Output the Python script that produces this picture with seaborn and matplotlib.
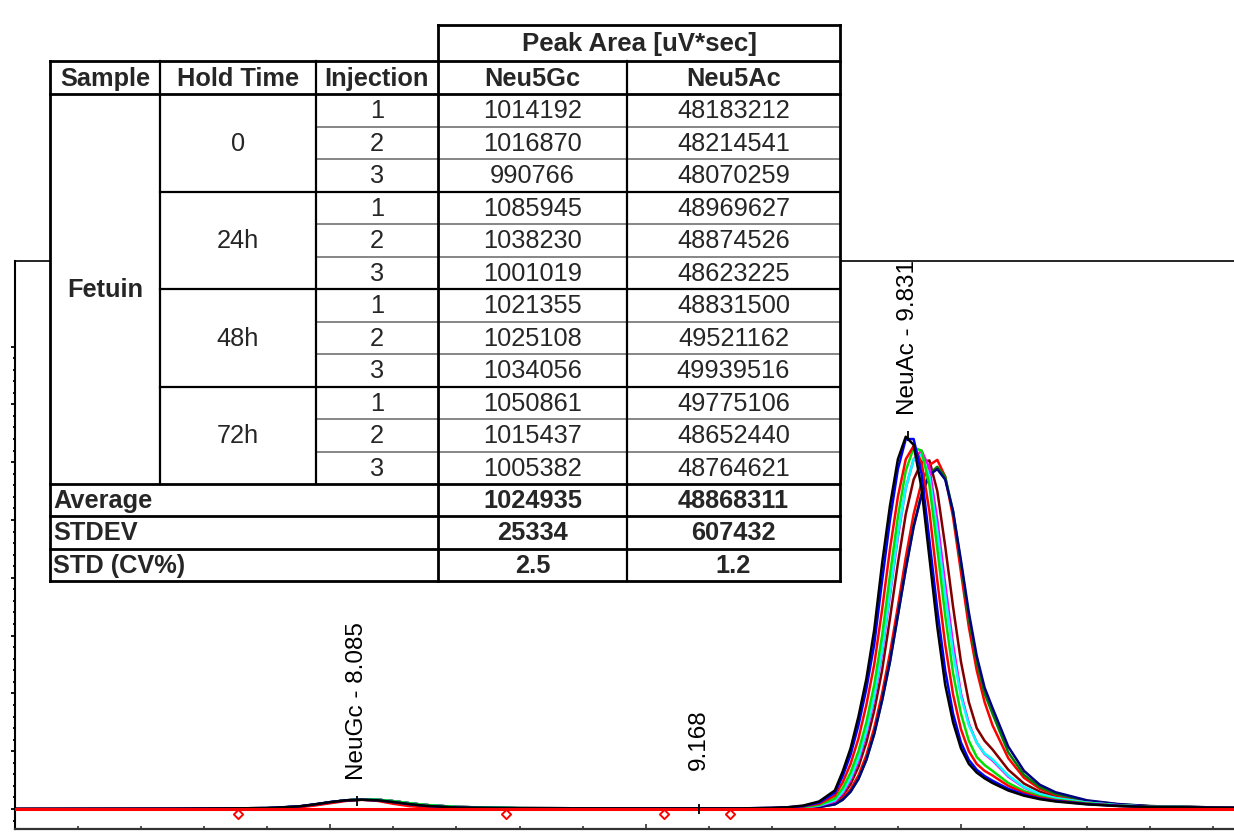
import matplotlib
matplotlib.use('Agg')
import matplotlib.pyplot as plt
import seaborn as sns
import pandas as pd
from matplotlib.patches import Rectangle
from matplotlib.ticker import MultipleLocator, FixedLocator

# retention time grid (min) shared by all overlaid injections
rt_min = [7.00, 7.50, 7.80, 7.90, 7.95, 8.00, 8.05, 8.10, 8.15, 8.20, 8.25, 8.30, 8.40, 8.60, 9.00, 9.30,
          9.40, 9.45, 9.50, 9.55, 9.60, 9.625, 9.65, 9.675, 9.70, 9.725, 9.75, 9.775, 9.80, 9.825, 9.85,
          9.875, 9.90, 9.925, 9.95, 9.975, 10.00, 10.025, 10.05, 10.075, 10.10, 10.15, 10.20, 10.25,
          10.30, 10.40, 10.50, 10.60, 10.87]

sig_maroon = [0.0, 0.05, 0.15, 0.4, 0.75, 1.15, 1.5, 1.65, 1.6, 1.35, 1.0, 0.7, 0.35, 0.15, 0.1, 0.1,
              0.1, 0.15, 0.25, 0.5, 1.1, 2.3, 4.3, 7.3, 11.5, 17.0, 24.0, 33.0, 42.5, 51.0, 57.0, 60.0,
              60.3, 55.0, 45.5, 35.0, 25.5, 18.5, 14.0, 11.8, 10.3, 6.8, 4.4, 3.0, 2.1, 1.2, 0.7, 0.45, 0.2]
sig_red2 = [0.0, 0.05, 0.15, 0.4, 0.75, 1.15, 1.5, 1.65, 1.6, 1.35, 1.0, 0.7, 0.35, 0.15, 0.1, 0.1,
            0.1, 0.1, 0.2, 0.4, 0.9, 1.8, 3.4, 5.8, 9.3, 14.0, 20.0, 27.0, 35.0, 43.5, 51.0, 56.5,
            59.5, 60.4, 57.5, 50.5, 41.0, 31.5, 24.0, 18.5, 14.5, 8.8, 5.4, 3.5, 2.4, 1.3, 0.75, 0.45, 0.2]
sig_dkgreen = [0.0, 0.05, 0.15, 0.4, 0.75, 1.15, 1.5, 1.65, 1.6, 1.35, 1.0, 0.7, 0.35, 0.15, 0.1, 0.1,
               0.1, 0.1, 0.2, 0.35, 0.8, 1.6, 3.0, 5.2, 8.5, 13.0, 18.8, 25.5, 33.5, 41.5, 49.0, 54.5,
               58.0, 59.2, 57.5, 51.5, 42.5, 33.0, 25.5, 20.0, 16.5, 9.8, 5.9, 3.8, 2.6, 1.4, 0.8, 0.5, 0.2]
sig_navy = [0.0, 0.05, 0.15, 0.4, 0.75, 1.15, 1.5, 1.65, 1.6, 1.35, 1.0, 0.7, 0.35, 0.15, 0.1, 0.1,
            0.1, 0.1, 0.2, 0.35, 0.8, 1.6, 3.0, 5.2, 8.5, 13.0, 18.8, 25.5, 33.5, 41.5, 48.8, 54.3,
            57.8, 58.8, 57.0, 51.5, 43.0, 34.0, 26.5, 21.0, 17.5, 10.8, 6.6, 4.2, 2.9, 1.5, 0.85, 0.5, 0.2]
sig_magenta = [0.0, 0.05, 0.15, 0.4, 0.75, 1.15, 1.5, 1.65, 1.6, 1.35, 1.0, 0.7, 0.35, 0.15, 0.1, 0.1,
               0.1, 0.15, 0.3, 0.55, 1.3, 2.7, 5.0, 8.3, 13.0, 19.0, 27.0, 37.0, 47.0, 55.5, 60.5, 62.0,
               59.0, 50.0, 39.0, 28.5, 20.0, 14.8, 11.5, 9.5, 8.4, 5.6, 3.7, 2.5, 1.9, 1.1, 0.65, 0.4, 0.2]
sig_cyan = [0.0, 0.05, 0.15, 0.4, 0.75, 1.15, 1.5, 1.65, 1.6, 1.35, 1.0, 0.7, 0.35, 0.15, 0.1, 0.1,
            0.1, 0.15, 0.3, 0.6, 1.5, 3.0, 5.4, 8.8, 13.5, 19.5, 27.5, 37.5, 47.5, 55.5, 60.5, 61.3,
            57.5, 48.0, 37.0, 27.0, 19.5, 14.5, 11.5, 9.6, 8.6, 5.8, 3.8, 2.6, 1.9, 1.1, 0.65, 0.4, 0.2]
sig_green = [0.0, 0.05, 0.15, 0.4, 0.75, 1.15, 1.5, 1.65, 1.6, 1.35, 1.0, 0.7, 0.35, 0.15, 0.1, 0.1,
             0.1, 0.2, 0.35, 0.7, 1.8, 3.6, 6.3, 10.0, 15.0, 21.5, 30.0, 40.5, 50.5, 58.5, 62.5, 62.0,
             56.0, 45.0, 33.5, 23.5, 16.5, 11.8, 9.0, 7.6, 6.6, 4.5, 3.1, 2.2, 1.6, 1.0, 0.6, 0.4, 0.2]
sig_red = [0.0, 0.05, 0.1, 0.3, 0.6, 1.0, 1.4, 1.6, 1.4, 0.9, 0.5, 0.3, 0.15, 0.1, 0.1, 0.1,
           0.15, 0.25, 0.45, 0.9, 2.3, 4.6, 7.8, 12.2, 18.0, 25.0, 34.5, 45.0, 54.0, 60.5, 62.8, 60.0,
           51.5, 39.5, 28.5, 19.8, 13.8, 10.0, 7.8, 6.6, 5.8, 4.0, 2.8, 2.0, 1.5, 0.9, 0.55, 0.35, 0.2]
sig_blue = [0.0, 0.05, 0.15, 0.45, 0.8, 1.2, 1.5, 1.6, 1.5, 1.2, 0.85, 0.55, 0.25, 0.12, 0.1, 0.1,
            0.2, 0.3, 0.5, 1.1, 2.8, 5.7, 9.4, 14.5, 20.8, 28.5, 39.5, 50.0, 58.8, 64.0, 64.0, 58.0,
            46.5, 34.5, 24.0, 16.5, 11.5, 8.5, 6.8, 5.7, 4.9, 3.5, 2.5, 1.8, 1.4, 0.85, 0.55, 0.35, 0.2]
sig_black = [0.0, 0.05, 0.15, 0.45, 0.8, 1.2, 1.5, 1.6, 1.5, 1.2, 0.85, 0.55, 0.25, 0.12, 0.1, 0.1,
             0.2, 0.3, 0.6, 1.3, 3.2, 6.5, 10.5, 16.0, 22.5, 31.0, 42.5, 52.5, 60.5, 64.4, 63.0, 55.5,
             43.5, 31.5, 21.5, 15.0, 10.5, 7.8, 6.3, 5.3, 4.5, 3.2, 2.3, 1.7, 1.3, 0.8, 0.5, 0.35, 0.2]

trace_colors = ['#800000', '#ff0000', '#008000', '#000080', '#ff00ff', '#00ffff', '#00e000',
                '#ff0000', '#0000ff', '#000000']
trace_signals = [sig_maroon, sig_red2, sig_dkgreen, sig_navy, sig_magenta, sig_cyan, sig_green,
                 sig_red, sig_blue, sig_black]

# peak labels and baseline delimiters
peak_rt = [8.085, 9.168, 9.831]
peak_apex = [1.4, 0.0, 64.5]
peak_text = ['NeuGc - 8.085', '9.168', 'NeuAc - 9.831']
label_y = [5.2, 6.9, 68.3]
delim_rt = [7.708, 8.557, 9.058, 9.268]
delim_y = [-0.8, -0.8, -0.8, -0.8]

# table
hold_times = ['0', '24h', '48h', '72h']
injections = ['1', '2', '3', '1', '2', '3', '1', '2', '3', '1', '2', '3']
neu5gc = ['1014192', '1016870', '990766', '1085945', '1038230', '1001019',
          '1021355', '1025108', '1034056', '1050861', '1015437', '1005382']
neu5ac = ['48183212', '48214541', '48070259', '48969627', '48874526', '48623225',
          '48831500', '49521162', '49939516', '49775106', '48652440', '48764621']
summary_labels = ['Average', 'STDEV', 'STD (CV%)']
summary_gc = ['1024935', '25334', '2.5']
summary_ac = ['48868311', '607432', '1.2']

sns.set_theme(style='white')
plt.rcParams['font.family'] = ['Liberation Sans', 'DejaVu Sans']

fig = plt.figure(figsize=(12.34, 8.37), dpi=100)
ax = fig.add_axes([15 / 1234, 7 / 837, 1219 / 1234, 568 / 837])

frames = []
for i, sig in enumerate(trace_signals):
    frames.append(pd.DataFrame({'rt': rt_min, 'signal': sig, 'inj': i}))
df = pd.concat(frames, ignore_index=True)

sns.lineplot(data=df, x='rt', y='signal', hue='inj', palette=trace_colors,
             estimator=None, sort=False, legend=False, linewidth=1.8, ax=ax)
for line in ax.get_lines():
    line.set_solid_joinstyle('round')
ax.axhline(0, color='#ff0000', lw=2.2, zorder=3)
sns.scatterplot(x=delim_rt, y=delim_y, marker='D', s=22, facecolor='white',
                edgecolor='#ff0000', linewidth=1.4, zorder=4, ax=ax)
sns.scatterplot(x=peak_rt, y=peak_apex, marker='|', s=60, color='black',
                linewidth=1.3, zorder=5, ax=ax)
for rt, y, txt in zip(peak_rt, label_y, peak_text):
    ax.text(rt, y, txt, rotation=90, ha='center', va='bottom', fontsize=17.5, color='black')

ax.set_xlim(7.0, 10.866)
ax.set_ylim(-3.46, 94.8)
ax.set_xlabel('')
ax.set_ylabel('')
ax.xaxis.set_major_locator(MultipleLocator(1))
ax.xaxis.set_minor_locator(MultipleLocator(0.2))
ax.yaxis.set_major_locator(FixedLocator(list(range(0, 81, 10))))
ax.yaxis.set_minor_locator(FixedLocator(list(range(-2, 81, 2))))
ax.tick_params(axis='x', which='both', direction='in', bottom=True, top=False,
               labelbottom=False, color='#333333', width=1.2)
ax.tick_params(axis='x', which='major', length=3.6)
ax.tick_params(axis='x', which='minor', length=2.3)
ax.tick_params(axis='y', which='both', direction='out', left=True, right=False,
               labelleft=False, color='black', width=1.3)
ax.tick_params(axis='y', which='major', length=3.2)
ax.tick_params(axis='y', which='minor', length=1.6)
ax.spines['right'].set_visible(False)
ax.spines['top'].set_linewidth(1.2)
ax.spines['top'].set_color('black')
ax.spines['left'].set_linewidth(1.5)
ax.spines['left'].set_color('black')
ax.spines['bottom'].set_linewidth(1.6)
ax.spines['bottom'].set_color('#333333')

# table drawn in pixel coordinates on an overlay
tax = fig.add_axes([0, 0, 1, 1], zorder=5)
tax.set_xlim(0, 1234)
tax.set_ylim(837, 0)
tax.axis('off')

col_x = [50, 160, 316, 438, 627, 840]
row_h = 32.5
data_top = 95
data_bot = data_top + 12 * row_h
sum_y = [data_bot, data_bot + 32.3, data_bot + 64.6, data_bot + 97]

tax.add_patch(Rectangle((50, 62), 790, 520, fc='white', ec='none'))
tax.add_patch(Rectangle((438, 26), 402, 36, fc='white', ec='none'))


def hline(y, x0, x1, lw=2.0, c='black'):
    tax.plot([x0, x1], [y, y], color=c, lw=lw, solid_capstyle='projecting')


def vline(x, y0, y1, lw=2.0, c='black'):
    tax.plot([x, x], [y0, y1], color=c, lw=lw, solid_capstyle='projecting')


for i in range(1, 12):
    y = data_top + i * row_h
    if i % 3 == 0:
        hline(y, col_x[1], col_x[5], lw=1.6)
    else:
        hline(y, col_x[2], col_x[5], lw=1.1, c='#666666')
hline(26, col_x[3], col_x[5])
hline(62, col_x[0], col_x[5])
hline(95, col_x[0], col_x[5])
for y in sum_y:
    hline(y, col_x[0], col_x[5])
vline(col_x[0], 62, sum_y[-1])
vline(col_x[1], 62, data_bot, lw=1.6)
vline(col_x[2], 62, data_bot, lw=1.6)
vline(col_x[3], 26, sum_y[-1])
vline(col_x[4], 62, sum_y[-1], lw=1.6)
vline(col_x[5], 26, sum_y[-1])

fs = 18.3
tax.text((col_x[3] + col_x[5]) / 2, 44, 'Peak Area [uV*sec]', ha='center', va='center',
         fontsize=fs + 0.3, fontweight='bold')
for j, head in enumerate(['Sample', 'Hold Time', 'Injection', 'Neu5Gc', 'Neu5Ac']):
    tax.text((col_x[j] + col_x[j + 1]) / 2, 79, head, ha='center', va='center',
             fontsize=fs, fontweight='bold')
tax.text((col_x[0] + col_x[1]) / 2, (data_top + data_bot) / 2, 'Fetuin', ha='center',
         va='center', fontsize=fs, fontweight='bold')
for k, ht in enumerate(hold_times):
    tax.text((col_x[1] + col_x[2]) / 2, data_top + (3 * k + 1.5) * row_h, ht,
             ha='center', va='center', fontsize=fs)
for i in range(12):
    yc = data_top + (i + 0.5) * row_h
    tax.text((col_x[2] + col_x[3]) / 2, yc, injections[i], ha='center', va='center', fontsize=fs)
    tax.text((col_x[3] + col_x[4]) / 2, yc, neu5gc[i], ha='center', va='center', fontsize=fs)
    tax.text((col_x[4] + col_x[5]) / 2, yc, neu5ac[i], ha='center', va='center', fontsize=fs)
for i in range(3):
    yc = (sum_y[i] + sum_y[i + 1]) / 2
    tax.text(col_x[0] + 3, yc, summary_labels[i], ha='left', va='center', fontsize=fs,
             fontweight='bold')
    tax.text((col_x[3] + col_x[4]) / 2, yc, summary_gc[i], ha='center', va='center',
             fontsize=fs, fontweight='bold')
    tax.text((col_x[4] + col_x[5]) / 2, yc, summary_ac[i], ha='center', va='center',
             fontsize=fs, fontweight='bold')

fig.savefig('out.png', dpi=100)
